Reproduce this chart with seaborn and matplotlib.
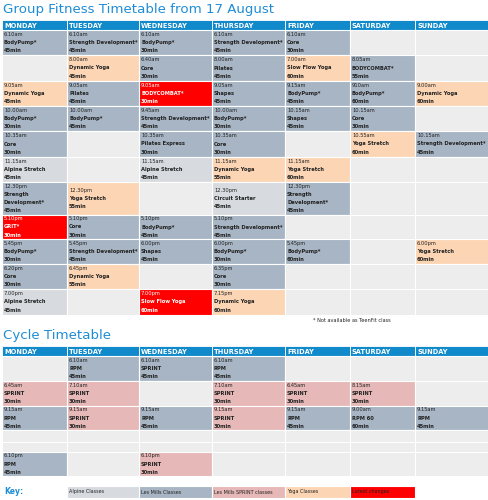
import matplotlib
matplotlib.use("Agg")
import matplotlib.pyplot as plt
from matplotlib.patches import Rectangle
import seaborn as sns

sns.set_theme(style="white")
plt.rcParams['font.family'] = ['DejaVu Sans']

days = ["MONDAY", "TUESDAY", "WEDNESDAY", "THURSDAY", "FRIDAY", "SATURDAY", "SUNDAY"]

# each cell: (time, class, duration, category) or None
# categories: A alpine, L les mills, S sprint, Y yoga, R latest change
fitness_rows = [
    [("6.10am", "BodyPump*", "45min", "L"), ("6.10am", "Strength Development*", "45min", "L"),
     ("6.10am", "BodyPump*", "30min", "L"), ("6.10am", "Strength Development*", "45min", "L"),
     ("6.10am", "Core", "30min", "L"), None, None],
    [None, ("8.00am", "Dynamic Yoga", "45min", "Y"), ("6.40am", "Core", "30min", "L"),
     ("8.00am", "Pilates", "45min", "L"), ("7.00am", "Slow Flow Yoga", "60min", "Y"),
     ("8.05am", "BODYCOMBAT*", "55min", "L"), None],
    [("9.05am", "Dynamic Yoga", "45min", "Y"), ("9.05am", "Pilates", "45min", "L"),
     ("9.05am", "BODYCOMBAT*", "30min", "R"), ("9.05am", "Shapes", "45min", "L"),
     ("9.15am", "BodyPump*", "45min", "L"), ("910am", "BodyPump*", "60min", "L"),
     ("9.00am", "Dynamic Yoga", "60min", "Y")],
    [("10.00am", "BodyPump*", "30min", "L"), ("10.00am", "BodyPump*", "45min", "L"),
     ("9.45am", "Strength Development*", "45min", "L"), ("10.00am", "BodyPump*", "30min", "L"),
     ("10.15am", "Shapes", "45min", "L"), ("10.15am", "Core", "30min", "L"), None],
    [("10.35am", "Core", "30min", "L"), None, ("10.35am", "Pilates Express", "30min", "L"),
     ("10.35am", "Core", "30min", "L"), None, ("10.55am", "Yoga Stretch", "60min", "Y"),
     ("10.15am", "Strength Development*", "45min", "L")],
    [("11.15am", "Alpine Stretch", "45min", "A"), None, ("11.15am", "Alpine Stretch", "45min", "A"),
     ("11.15am", "Dynamic Yoga", "55min", "Y"), ("11.15am", "Yoga Stretch", "60min", "Y"), None, None],
    [("12.30pm", "Strength\nDevelopment*", "45min", "L"), ("12.30pm", "Yoga Stretch", "55min", "Y"),
     None, ("12.30pm", "Circuit Starter", "45min", "A"),
     ("12.30pm", "Strength\nDevelopment*", "45min", "L"), None, None],
    [("5.10pm", "GRIT*", "30min", "R"), ("5.10pm", "Core", "30min", "L"),
     ("5.10pm", "BodyPump*", "45min", "L"), ("5.10pm", "Strength Development*", "45min", "L"),
     None, None, None],
    [("5.45pm", "BodyPump*", "30min", "L"), ("5.45pm", "Strength Development*", "45min", "L"),
     ("6.00pm", "Shapes", "45min", "L"), ("6.00pm", "BodyPump*", "30min", "L"),
     ("5.45pm", "BodyPump*", "60min", "L"), None, ("6.00pm", "Yoga Stretch", "60min", "Y")],
    [("6.20pm", "Core", "30min", "L"), ("6.45pm", "Dynamic Yoga", "55min", "Y"), None,
     ("6.35pm", "Core", "30min", "L"), None, None, None],
    [("7.00pm", "Alpine Stretch", "45min", "A"), None, ("7.00pm", "Slow Flow Yoga", "60min", "R"),
     ("7.15pm", "Dynamic Yoga", "60min", "Y"), None, None, None],
]

cycle_rows = [
    [None, ("6.10am", "RPM", "45min", "L"), ("6.10am", "SPRINT", "45min", "L"),
     ("6.10am", "RPM", "45min", "L"), None, None, None],
    [("6.45am", "SPRINT", "30min", "S"), ("7.10am", "SPRINT", "30min", "S"), None,
     ("7.10am", "SPRINT", "30min", "S"), ("6.45am", "SPRINT", "30min", "S"),
     ("8.15am", "SPRINT", "30min", "S"), None],
    [("9.15am", "RPM", "45min", "L"), ("9.15am", "SPRINT", "30min", "S"), ("9.15am", "RPM", "45min", "L"),
     ("9.15am", "SPRINT", "30min", "S"), ("9.15am", "RPM", "45min", "L"),
     ("9.00am", "RPM 60", "60min", "L"), ("9.15am", "RPM", "45min", "L")],
    [None] * 7,
    [None] * 7,
    [("6.10pm", "RPM", "45min", "L"), None, ("6.10pm", "SPRINT", "30min", "S"), None, None, None, None],
]

key_labels = ["Alpine Classes", "Les Mills Classes", "Les Mills SPRINT classes", "Yoga Classes", "Latest changes"]
key_cats = ["A", "L", "S", "Y", "R"]

colors = {"A": "#D7DBDF", "L": "#A7B5C4", "S": "#E6B8B7", "Y": "#FCD5B4", "R": "#FF0000", None: "#EDEDED"}
header_color = "#118ACB"
title_color = "#1F8DD6"

col_x = [2, 67, 139, 212, 285, 350, 415, 489]
fit_y = [30, 55, 81, 106, 131, 157, 182, 215, 239, 264, 289, 315]
cyc_y = [356, 381, 406, 430, 442, 452, 476]

fig = plt.figure(figsize=(4.89, 5.0), dpi=100)
ax = fig.add_axes([0, 0, 1, 1])
ax.set_xlim(0, 489)
ax.set_ylim(500, 0)
ax.axis("off")

fs = 3.7


def header(y0, y1):
    for i, d in enumerate(days):
        ax.add_patch(Rectangle((col_x[i], y0), col_x[i + 1] - col_x[i], y1 - y0,
                               facecolor=header_color, edgecolor="white", lw=0.6))
        ax.text(col_x[i] + 2, (y0 + y1) / 2 + 0.5, d, color="white", fontsize=4.8,
                fontweight="bold", va="center", ha="left")


def table(rows, ys):
    for r, row in enumerate(rows):
        y0, y1 = ys[r], ys[r + 1]
        for c, cell in enumerate(row):
            cat = cell[3] if cell else None
            ax.add_patch(Rectangle((col_x[c], y0), col_x[c + 1] - col_x[c], y1 - y0,
                                   facecolor=colors[cat], edgecolor="white", lw=0.8))
            if cell is None:
                continue
            tc = "white" if cat == "R" else "#222222"
            lines = [(cell[0], "normal")] + [(t, "bold") for t in cell[1].split("\n")] + [(cell[2], "bold")]
            step = 8.3
            top = (y0 + y1) / 2 - step * (len(lines) - 1) / 2
            for k, (t, w) in enumerate(lines):
                ax.text(col_x[c] + 2, top + k * step, t, fontsize=fs, fontweight=w,
                        color=tc, va="center", ha="left")


ax.text(3, 10, "Group Fitness Timetable from 17 August", color=title_color, fontsize=9.6, va="center")
header(20, 30)
table(fitness_rows, fit_y)
ax.text(313, 320, "* Not available as TeenFit class", fontsize=3.6, color="#222222", va="center")

ax.text(3, 336, "Cycle Timetable", color=title_color, fontsize=9.6, va="center")
header(346, 356)
table(cycle_rows, cyc_y)

ax.text(4, 492, "Key:", color=title_color, fontsize=5.5, fontweight="bold", va="center")
for i, (lab, cat) in enumerate(zip(key_labels, key_cats)):
    ax.add_patch(Rectangle((col_x[i + 1], 486), col_x[i + 2] - col_x[i + 1], 12,
                           facecolor=colors[cat], edgecolor="white", lw=0.8))
    ax.text(col_x[i + 1] + 2, 492, lab, fontsize=3.5, va="center",
            color="#222222")

fig.savefig("out.png", dpi=100)
